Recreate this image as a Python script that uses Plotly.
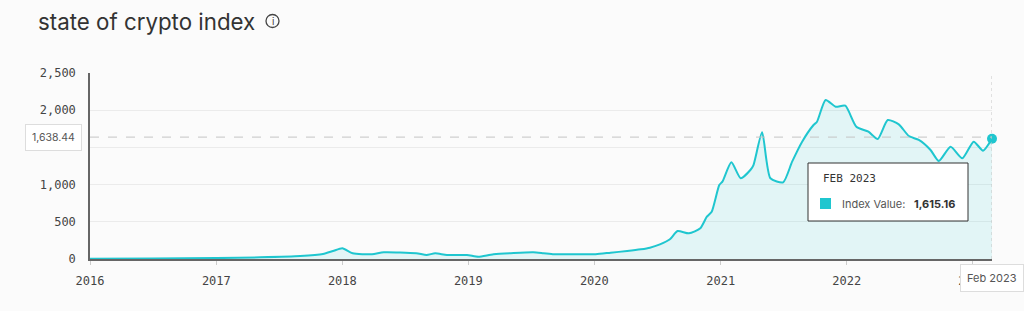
import plotly.graph_objects as go

# ---- data ----
dates = [
    "2016-01-01", "2016-07-01", "2017-01-01", "2017-05-08", "2017-09-01", "2017-11-06",
    "2017-12-05", "2018-01-01", "2018-01-31", "2018-03-28", "2018-05-01", "2018-08-03",
    "2018-09-02", "2018-09-27", "2018-10-31", "2018-12-28", "2019-01-30", "2019-03-15",
    "2019-07-08", "2019-08-07", "2019-09-06", "2019-10-23", "2020-01-05", "2020-02-17",
    "2020-04-05", "2020-05-15", "2020-06-10", "2020-07-09", "2020-08-07", "2020-08-29",
    "2020-10-01", "2020-11-03", "2020-11-22", "2020-12-06", "2020-12-28", "2021-01-06",
    "2021-02-01", "2021-02-28", "2021-03-28", "2021-04-06", "2021-05-01", "2021-05-25",
    "2021-07-01", "2021-07-27", "2021-08-25", "2021-09-27", "2021-10-07", "2021-11-01",
    "2021-11-30", "2021-12-28", "2022-01-29", "2022-03-05", "2022-04-01", "2022-04-30",
    "2022-06-01", "2022-06-30", "2022-07-29", "2022-09-01", "2022-09-25", "2022-10-29",
    "2022-12-02", "2023-01-04", "2023-01-31", "2023-02-26",
]
index_values = [
    5, 8, 12, 23, 40, 67,
    107, 144, 77, 63, 90, 77,
    54, 77, 54, 54, 31, 63,
    90, 77, 63, 63, 65, 85,
    107, 130, 152, 197, 265, 376,
    345, 413, 569, 636, 995, 1040,
    1300, 1085, 1196, 1263, 1703, 1085,
    1031, 1308, 1577, 1801, 1845, 2137,
    2047, 2060, 1778, 1711, 1613, 1868,
    1810, 1653, 1600, 1465, 1317, 1509,
    1353, 1577, 1456, 1615.16,
]
x_ticks = ["2016-01-01", "2017-01-01", "2018-01-01", "2019-01-01", "2020-01-01",
           "2021-01-01", "2022-01-01", "2023-01-01"]
x_tick_labels = ["2016", "2017", "2018", "2019", "2020", "2021", "2022", "2023"]
y_ticks = [0, 500, 1000, 1500, 2000, 2500]
y_tick_labels = ["0", "500", "1,000", "", "2,000", "2,500"]
cursor_value = 1638.44
hover_label = "FEB 2023"
hover_value = "1,615.16"
x_cursor_label = "Feb 2023"

LINE = "#1fc6cf"
FILL = "rgba(31,198,207,0.11)"
BG = "#fbfbfb"

fig = go.Figure()
fig.add_trace(go.Scatter(
    x=dates, y=index_values, mode="lines",
    line=dict(color=LINE, width=2, shape="spline", smoothing=0.6),
    fill="tozeroy", fillcolor=FILL, hoverinfo="skip", showlegend=False,
))
fig.add_trace(go.Scatter(
    x=[dates[-1]], y=[index_values[-1]], mode="markers",
    marker=dict(color=LINE, size=10), hoverinfo="skip", showlegend=False,
    cliponaxis=False,
))

# cursor crosshair
fig.add_shape(type="line", xref="paper", yref="y", x0=0, x1=1, y0=cursor_value, y1=cursor_value,
              line=dict(color="#c4c4c4", width=1, dash="dash"))
fig.add_shape(type="line", xref="x", yref="paper", x0=dates[-1], x1=dates[-1], y0=0, y1=1,
              line=dict(color="#c4c4c4", width=1, dash="dot"))

W = 902.0
H = 186.0
def px(xp):
    return (xp - 90) / W
def py(yp):
    return (259 - yp) / H

# tooltip box
fig.add_shape(type="rect", xref="paper", yref="paper",
              x0=px(808), x1=px(968), y0=py(221), y1=py(163),
              line=dict(color="#333333", width=1), fillcolor="white", layer="above")
fig.add_shape(type="rect", xref="paper", yref="paper",
              x0=px(820), x1=px(831), y0=py(209), y1=py(198),
              line=dict(width=0), fillcolor=LINE, layer="above")

annotations = [
    dict(text="state of crypto index", x=px(36), y=py(21), xanchor="left", yanchor="middle",
         font=dict(family="Inter, Roboto, sans-serif", size=22.3, color="#333333")),
    dict(text="i", x=px(272.5), y=py(21), xanchor="center", yanchor="middle",
         font=dict(family="Inter, sans-serif", size=10, color="#444444")),
    dict(text=hover_label, x=px(821), y=py(178), xanchor="left", yanchor="middle",
         font=dict(family="DejaVu Sans Mono, monospace", size=11, color="#333333")),
    dict(text="Index Value:", x=px(840), y=py(204), xanchor="left", yanchor="middle",
         font=dict(family="Inter, Roboto, sans-serif", size=11, color="#555555")),
    dict(text="<b>" + hover_value + "</b>", x=px(912), y=py(204), xanchor="left", yanchor="middle",
         font=dict(family="Inter, Roboto, sans-serif", size=11, color="#333333")),
    dict(text=f"{cursor_value:,.2f}", x=px(82), y=cursor_value, yref="y", xanchor="right",
         yanchor="middle", bgcolor="white", bordercolor="#dddddd", borderwidth=1, borderpad=6,
         font=dict(family="Inter, Roboto, sans-serif", size=10.5, color="#555555")),
    dict(text=x_cursor_label, x=dates[-1], xref="x", y=py(278), xanchor="center",
         yanchor="middle", bgcolor="white", bordercolor="#dddddd", borderwidth=1, borderpad=6,
         font=dict(family="Inter, Roboto, sans-serif", size=11, color="#555555")),
]
for a in annotations:
    a.setdefault("xref", "paper")
    a.setdefault("yref", "paper")
    a["showarrow"] = False
fig.update_layout(annotations=annotations)

# info icon circle
fig.add_shape(type="circle", xref="paper", yref="paper",
              x0=px(266), x1=px(279), y0=py(27.5), y1=py(14.5),
              line=dict(color="#444444", width=1.3))

fig.update_layout(
    width=1024, height=311,
    margin=dict(l=90, r=32, t=73, b=52),
    paper_bgcolor=BG, plot_bgcolor=BG,
    xaxis=dict(range=[dates[0], dates[-1]], tickvals=x_ticks, ticktext=x_tick_labels,
               showgrid=False, showline=True, linecolor="#666666", linewidth=1.5,
               ticks="outside", ticklen=4, tickcolor="#cccccc",
               ticklabelstandoff=6,
               tickfont=dict(family="DejaVu Sans Mono, monospace", size=12, color="#444444"),
               zeroline=False),
    yaxis=dict(range=[0, 2500], tickvals=y_ticks, ticktext=y_tick_labels,
               showgrid=True, gridcolor="#ebebeb", gridwidth=1,
               showline=True, linecolor="#666666", linewidth=1.5, ticks="",
               ticklabelstandoff=10,
               tickfont=dict(family="DejaVu Sans Mono, monospace", size=12, color="#444444"),
               zeroline=False),
)

fig.write_html("out.html")
